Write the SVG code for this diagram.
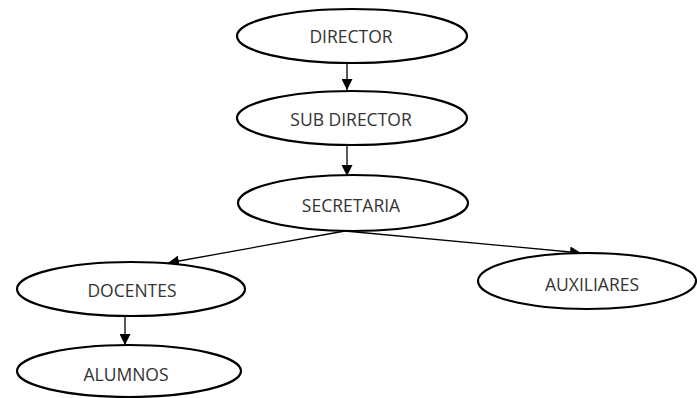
<svg xmlns="http://www.w3.org/2000/svg" width="697" height="398" viewBox="0 0 697 398">
<style>
.n ellipse{fill:#fff;stroke:#000;stroke-width:2.2}
.n text{font-family:"Open Sans","Liberation Sans",sans-serif;font-size:17.5px;fill:#333;text-anchor:middle}
.c line{stroke:#000;stroke-width:1.3}
</style>
<defs>
<marker id="ah" markerWidth="11" markerHeight="11" refX="11" refY="5.5" orient="auto" markerUnits="userSpaceOnUse">
<path d="M0,0 L11,5.5 L0,11 Z" fill="#000"/>
</marker>
</defs>
<rect width="697" height="398" fill="#fff"/>
<g class="c">
<line x1="347" y1="63" x2="347" y2="90" marker-end="url(#ah)"/>
<line x1="347" y1="145" x2="347" y2="176" marker-end="url(#ah)"/>
<line x1="345" y1="231" x2="168" y2="263" marker-end="url(#ah)"/>
<line x1="345" y1="231" x2="581" y2="253" marker-end="url(#ah)"/>
<line x1="125" y1="317" x2="125" y2="345" marker-end="url(#ah)"/>
</g>
<g class="n" id="director"><ellipse cx="352" cy="36" rx="115" ry="27"/><text x="351" y="43">DIRECTOR</text></g>
<g class="n" id="subdirector"><ellipse cx="352" cy="118" rx="115" ry="27"/><text x="351" y="126">SUB DIRECTOR</text></g>
<g class="n" id="secretaria"><ellipse cx="353" cy="203" rx="115" ry="28"/><text x="351" y="212">SECRETARIA</text></g>
<g class="n" id="docentes"><ellipse cx="131" cy="289" rx="114" ry="27"/><text x="132" y="297">DOCENTES</text></g>
<g class="n" id="alumnos"><ellipse cx="129" cy="371" rx="112" ry="26"/><text x="126" y="381">ALUMNOS</text></g>
<g class="n" id="auxiliares"><ellipse cx="587" cy="281" rx="109" ry="28"/><text x="592" y="291">AUXILIARES</text></g>
</svg>
